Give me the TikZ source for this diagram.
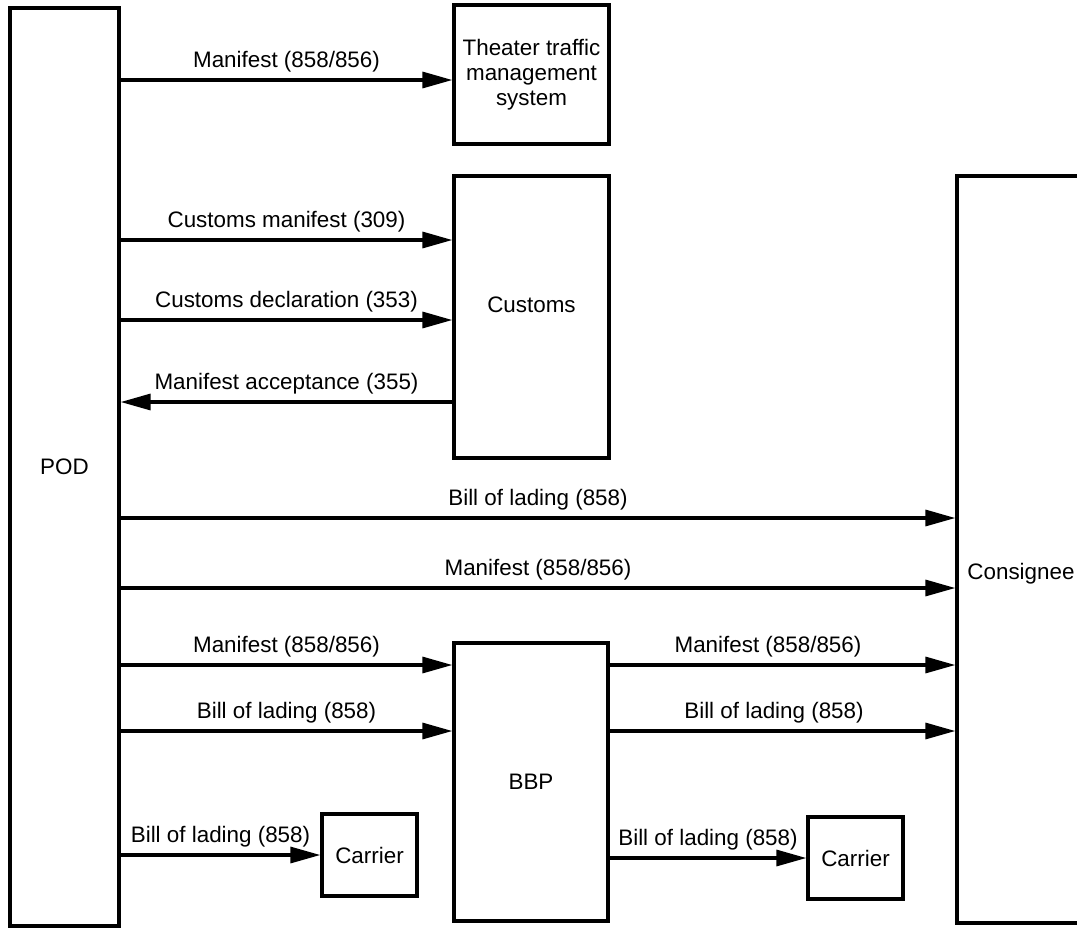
\documentclass[tikz,border=0pt]{standalone}
\usepackage{fontspec}
\setmainfont{Liberation Sans}
\usetikzlibrary{arrows.meta}
\begin{document}
\begin{tikzpicture}[x=0.5pt,y=-0.5pt,
  every node/.style={font=\fontsize{11.2pt}{12.5pt}\selectfont},
  box/.style={draw, line width=1.6pt, inner sep=0pt, align=center},
  flow/.style={line width=1.6pt, -{Triangle[length=15pt,width=8pt]}},
  lbl/.style={midway, above=3pt, inner sep=0pt}]
\useasboundingbox (0,0) rectangle (1077,928);
\clip (0,0) rectangle (1077,928);

% participants
\node[box, minimum width=54.5pt, minimum height=459pt] (pod) at (64.5,467) {POD};
\node[box, minimum width=77.5pt, minimum height=69.5pt] (tms) at (531.5,74.5)
  {Theater traffic\\management\\system};
\node[box, minimum width=77.5pt, minimum height=141pt,
  label={[yshift=6.25pt]center:Customs}] (customs) at (531.5,317) {};
\node[box, minimum width=64pt, minimum height=373.5pt,
  label={[yshift=-12pt]center:Consignee}] (cons) at (1021,549.5) {};
\node[box, minimum width=77pt, minimum height=139pt] (bbp) at (531,782) {BBP};
\node[box, minimum width=47.5pt, minimum height=41pt] (car1) at (369.5,855) {Carrier};
\node[box, minimum width=47.5pt, minimum height=41pt] (car2) at (855.5,858) {Carrier};

% messages from the port of debarkation
\draw[flow] (pod.east |- 0,80) -- (tms.west |- 0,80)
  node[lbl] {Manifest (858/856)};
\draw[flow] (pod.east |- 0,240) -- (customs.west |- 0,240)
  node[lbl] {Customs manifest (309)};
\draw[flow] (pod.east |- 0,320) -- (customs.west |- 0,320)
  node[lbl] {Customs declaration (353)};
\draw[flow] (customs.west |- 0,402) -- (pod.east |- 0,402)
  node[lbl] {Manifest acceptance (355)};
\draw[flow] (pod.east |- 0,518) -- (cons.west |- 0,518)
  node[lbl] {Bill of lading (858)};
\draw[flow] (pod.east |- 0,588) -- (cons.west |- 0,588)
  node[lbl] {Manifest (858/856)};
\draw[flow] (pod.east |- 0,665) -- (bbp.west |- 0,665)
  node[lbl] {Manifest (858/856)};
\draw[flow] (pod.east |- 0,731) -- (bbp.west |- 0,731)
  node[lbl] {Bill of lading (858)};
\draw[flow] (pod.east |- car1.west) -- (car1.west)
  node[lbl] {Bill of lading (858)};

% messages forwarded by the BBP
\draw[flow] (bbp.east |- 0,665) -- (cons.west |- 0,665)
  node[lbl, xshift=-7.25pt] {Manifest (858/856)};
\draw[flow] (bbp.east |- 0,731) -- (cons.west |- 0,731)
  node[lbl, xshift=-4.25pt] {Bill of lading (858)};
\draw[flow] (bbp.east |- car2.west) -- (car2.west)
  node[lbl] {Bill of lading (858)};
\end{tikzpicture}
\end{document}
